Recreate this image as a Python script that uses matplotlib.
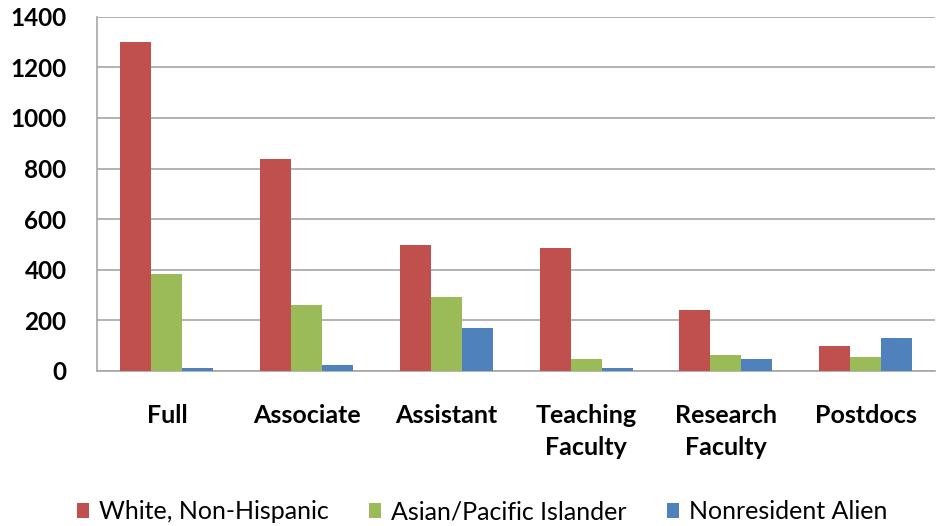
import numpy as np
import matplotlib.pyplot as plt

plt.rcParams['font.family'] = ['Lato', 'DejaVu Sans']

categories = ['Full', 'Associate', 'Assistant', 'Teaching\nFaculty', 'Research\nFaculty', 'Postdocs']
series_names = ['White, Non-Hispanic', 'Asian/Pacific Islander', 'Nonresident Alien']
white = [1300, 838, 497, 484, 241, 100]
asian = [382, 262, 291, 47, 64, 56]
nonres = [10, 22, 168, 12, 47, 128]
colors = ['#C0504D', '#9BBB59', '#4F81BD']

fig = plt.figure(figsize=(9.42, 5.26), dpi=100)
ax = fig.add_axes([0.103, 0.295, 0.89, 0.673])

x = np.arange(len(categories))
w = 0.222
for i, vals in enumerate([white, asian, nonres]):
    ax.bar(x + (i - 1) * w, vals, w, color=colors[i], label=series_names[i], zorder=3)

ax.set_xlim(-0.5, len(categories) - 0.5)
ax.set_ylim(0, 1400)
ax.set_yticks(range(0, 1401, 200))
ax.yaxis.grid(True, color='#A6A6A6', linewidth=1.2, zorder=0)
ax.set_xticks(x)
ax.set_xticklabels(categories, fontsize=18, fontweight='bold', linespacing=1.45)
for lbl in ax.get_yticklabels():
    lbl.set_fontsize(17.5)
    lbl.set_fontweight('bold')
ax.tick_params(axis='x', length=0, pad=24)
ax.tick_params(axis='y', length=0, pad=22)
for s in ['top', 'right']:
    ax.spines[s].set_visible(False)
ax.spines['left'].set_color('#A6A6A6')
ax.spines['bottom'].set_color('#A6A6A6')
ax.spines['left'].set_linewidth(1.2)
ax.spines['bottom'].set_linewidth(1.2)

fig.legend(loc='center', bbox_to_anchor=(0.512, 0.027), ncol=3, frameon=False,
           fontsize=18, handlelength=0.5, handleheight=0.5, handletextpad=0.4,
           columnspacing=1.6)

fig.savefig('out.png', dpi=100)
